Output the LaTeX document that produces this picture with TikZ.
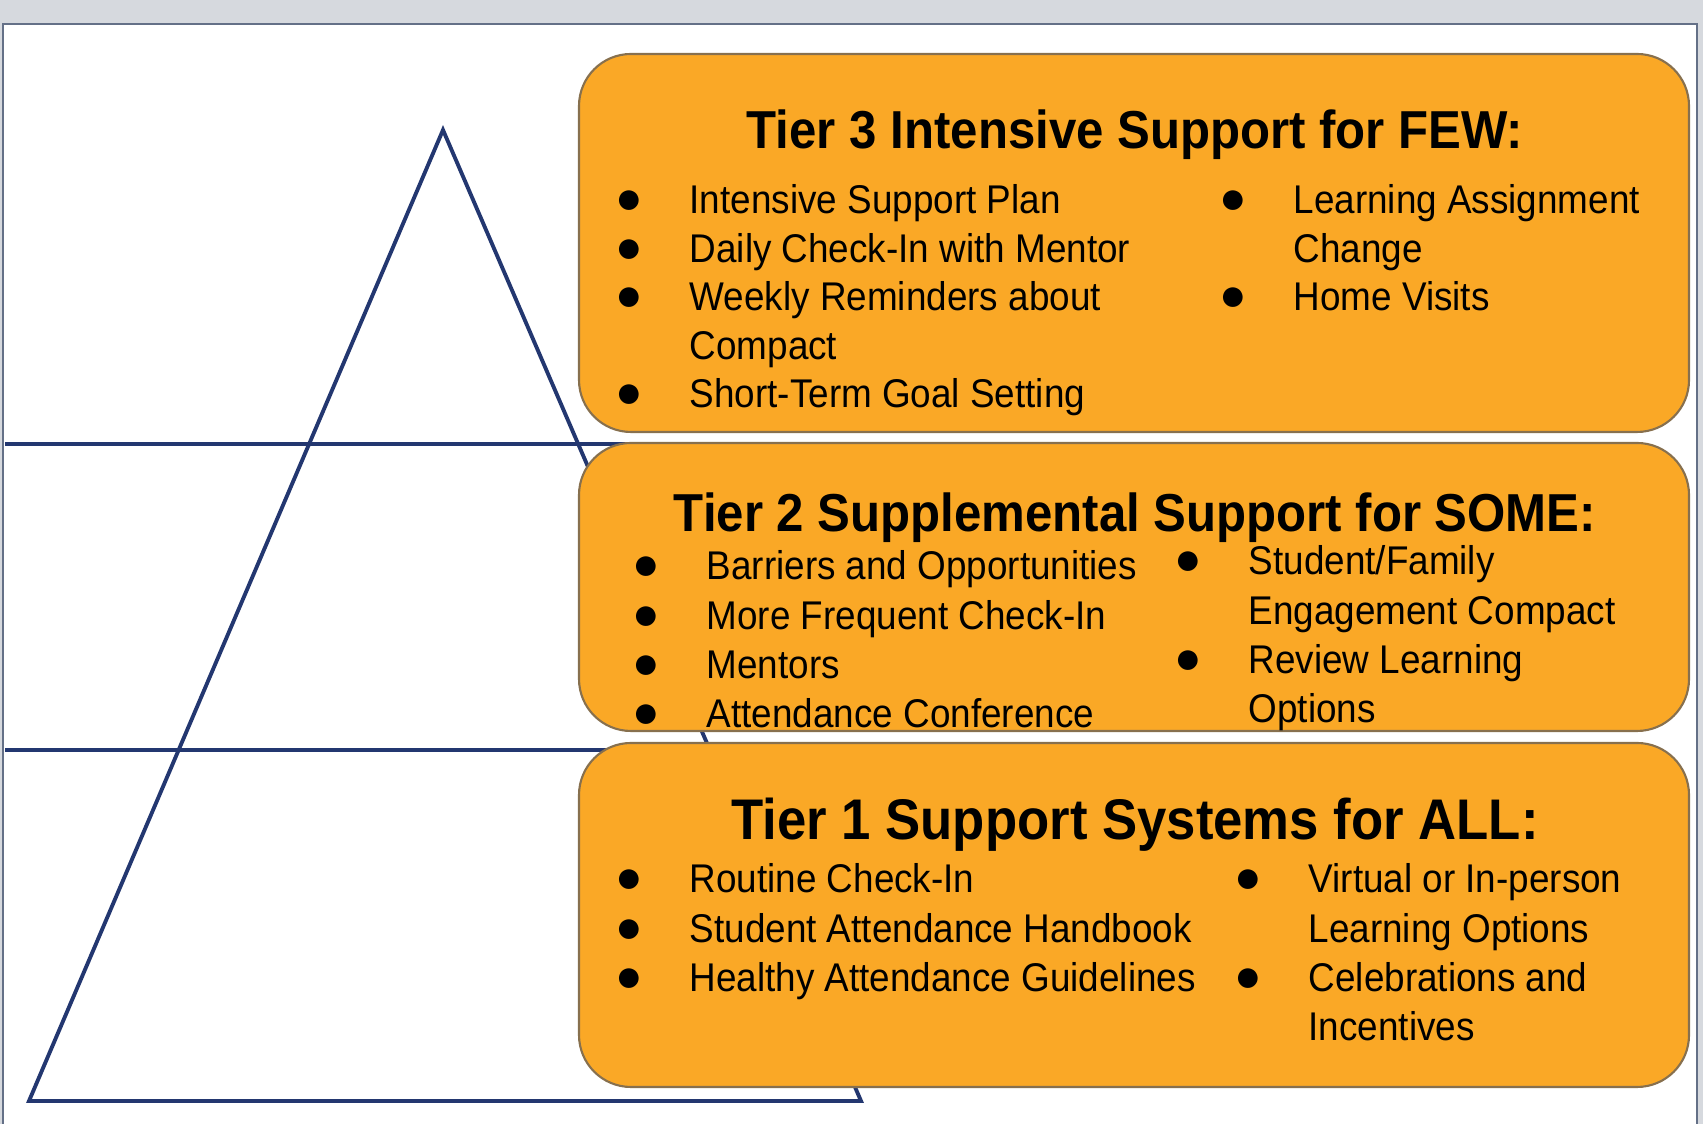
\documentclass[tikz,border=0pt]{standalone}
\usepackage{fontspec}
\setmainfont{Liberation Sans}[FakeStretch=0.92]
\newfontfamily\dotfont{Liberation Sans}
\usepackage{tikz}
\definecolor{tierorange}{RGB}{250,168,38}
\definecolor{tieredge}{RGB}{135,112,78}
\definecolor{pyrblue}{RGB}{35,55,112}
\definecolor{framegray}{RGB}{100,112,135}
\definecolor{backdrop}{RGB}{214,217,222}
\newcommand{\bul}{\makebox[0.74cm][l]{\raisebox{0pt}[0pt][0pt]{\dotfont\fontsize{13}{13}\selectfont ●}}}
\newcommand{\tierrows}[1]{\begin{tabular}[t]{@{}l@{}l@{}}#1\end{tabular}}

\begin{document}
\begin{tikzpicture}[
    tierbox/.style={draw=tieredge, line width=0.6pt, fill=tierorange,
                    rounded corners=0.52cm, minimum width=11.10cm},
    tiertitle/.style={anchor=base, inner sep=0pt,
                      font=\bfseries\fontsize{15.2}{18}\selectfont},
    tierlist/.style={anchor=base west, inner sep=0pt,
                     font=\fontsize{11.4}{#1}\selectfont},
    tierlist/.default=14pt,
    pyrline/.style={draw=pyrblue, line width=1.1pt}]
  \useasboundingbox (0,0) rectangle (17.03,11.24);
  \fill[backdrop] (0,0) rectangle (17.03,11.24);
  \draw[framegray, fill=white, line width=0.6pt] (0.03,-0.2) rectangle (16.97,11.0);

  \coordinate (apex) at (4.43,9.94);
  \coordinate (bl)   at (0.29,0.23);
  \coordinate (br)   at (8.61,0.23);
  \coordinate (cut3) at (0.05,6.80);
  \coordinate (cut2) at (0.05,3.74);
  \draw[pyrline, line join=miter] (apex) -- (br) -- (bl) -- cycle;
  \draw[pyrline] (cut3) -- ++(9.07,0);
  \draw[pyrline] (cut2) -- ++(9.07,0);

  \node[tierbox, minimum height=3.78cm] (few)  at (11.34,8.81) {};
  \node[tierbox, minimum height=2.88cm] (some) at (11.34,5.37) {};
  \node[tierbox, minimum height=3.44cm] (all)  at (11.34,2.09) {};

  \node[tiertitle] (fewhead)  at (11.35,9.75) {Tier 3 Intensive Support for FEW:};
  \node[tiertitle] (somehead) at (11.35,5.92) {Tier 2 Supplemental Support for SOME:};
  \node[tiertitle, font=\bfseries\fontsize{16.3}{19}\selectfont] (allhead)
       at (11.35,2.84) {Tier 1 Support Systems for ALL:};

  \node[tierlist=13.8pt] (fewleft) at (6.15,9.10) {\tierrows{%
      \bul & Intensive Support Plan\\
      \bul & Daily Check-In with Mentor\\
      \bul & Weekly Reminders about\\
           & Compact\\
      \bul & Short-Term Goal Setting}};
  \node[tierlist=13.8pt] (fewright) at (12.19,9.10) {\tierrows{%
      \bul & Learning Assignment\\
           & Change\\
      \bul & Home Visits}};

  \node[tierlist] (someleft) at (6.32,5.44) {\tierrows{%
      \bul & Barriers and Opportunities\\
      \bul & More Frequent Check-In\\
      \bul & Mentors\\
      \bul & Attendance Conference}};
  \node[tierlist] (someright) at (11.74,5.49) {\tierrows{%
      \bul & Student/Family\\
           & Engagement Compact\\
      \bul & Review Learning\\
           & Options}};

  \node[tierlist] (allleft) at (6.15,2.31) {\tierrows{%
      \bul & Routine Check-In\\
      \bul & Student Attendance Handbook\\
      \bul & Healthy Attendance Guidelines}};
  \node[tierlist] (allright) at (12.34,2.31) {\tierrows{%
      \bul & Virtual or In-person\\
           & Learning Options\\
      \bul & Celebrations and\\
           & Incentives}};
\end{tikzpicture}
\end{document}
